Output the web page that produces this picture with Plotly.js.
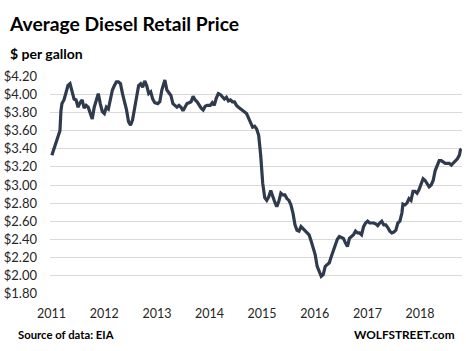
<!DOCTYPE html>
<html>
<head>
<meta charset="utf-8">
<script src="https://cdn.plot.ly/plotly-3.0.1.min.js"></script>
<style>
html,body{margin:0;padding:0;background:#fff;}
#chart{width:466px;height:351px;}
</style>
</head>
<body>
<div id="chart"></div>
<script>
var dates = [
"2011-01-03","2011-01-17","2011-01-31","2011-02-14","2011-02-28","2011-03-07","2011-03-14","2011-03-28","2011-04-11","2011-04-25","2011-05-09","2011-05-23","2011-06-06","2011-06-20","2011-07-04","2011-07-18","2011-08-01","2011-08-15","2011-08-29","2011-09-12","2011-09-26","2011-10-10","2011-10-24","2011-11-07","2011-11-21","2011-12-05","2011-12-19",
"2012-01-02","2012-01-16","2012-01-30","2012-02-13","2012-02-27","2012-03-12","2012-03-26","2012-04-09","2012-04-23","2012-05-07","2012-05-21","2012-06-04","2012-06-18","2012-07-02","2012-07-16","2012-07-30","2012-08-13","2012-08-27","2012-09-10","2012-09-24","2012-10-08","2012-10-22","2012-11-05","2012-11-19","2012-12-03","2012-12-17",
"2013-01-07","2013-01-21","2013-02-04","2013-02-18","2013-02-25","2013-03-11","2013-03-25","2013-04-08","2013-04-22","2013-05-06","2013-05-20","2013-06-03","2013-06-17","2013-07-01","2013-07-15","2013-07-29","2013-08-12","2013-08-26","2013-09-09","2013-09-23","2013-10-07","2013-10-21","2013-11-04","2013-11-18","2013-12-02","2013-12-16",
"2014-01-06","2014-01-20","2014-02-03","2014-02-17","2014-03-03","2014-03-17","2014-03-31","2014-04-14","2014-04-28","2014-05-12","2014-05-26","2014-06-09","2014-06-23","2014-07-07","2014-07-21","2014-08-04","2014-08-18","2014-09-01","2014-09-15","2014-09-29","2014-10-13","2014-10-27","2014-11-10","2014-11-24","2014-12-08","2014-12-22",
"2015-01-05","2015-01-19","2015-02-02","2015-02-16","2015-03-02","2015-03-16","2015-03-30","2015-04-13","2015-04-27","2015-05-11","2015-05-25","2015-06-08","2015-06-22","2015-07-06","2015-07-20","2015-08-03","2015-08-17","2015-08-31","2015-09-14","2015-09-28","2015-10-12","2015-10-26","2015-11-09","2015-11-23","2015-12-07","2015-12-21",
"2016-01-04","2016-01-18","2016-02-01","2016-02-15","2016-02-29","2016-03-14","2016-03-28","2016-04-11","2016-04-25","2016-05-09","2016-05-23","2016-06-06","2016-06-20","2016-07-04","2016-07-18","2016-08-01","2016-08-15","2016-08-29","2016-09-12","2016-09-26","2016-10-10","2016-10-24","2016-11-07","2016-11-21","2016-12-05","2016-12-19",
"2017-01-02","2017-01-16","2017-01-30","2017-02-13","2017-02-27","2017-03-13","2017-03-27","2017-04-10","2017-04-24","2017-05-08","2017-05-22","2017-06-05","2017-06-19","2017-07-03","2017-07-17","2017-07-31","2017-08-14","2017-08-28","2017-09-04","2017-09-18","2017-10-02","2017-10-16","2017-10-30","2017-11-13","2017-11-27","2017-12-11","2017-12-25",
"2018-01-08","2018-01-22","2018-02-05","2018-02-19","2018-03-05","2018-03-19","2018-04-02","2018-04-16","2018-04-30","2018-05-14","2018-05-28","2018-06-11","2018-06-25","2018-07-09","2018-07-23","2018-08-06","2018-08-20","2018-09-03","2018-09-17","2018-10-01","2018-10-08","2018-10-15"
];
var prices = [
3.33,3.40,3.48,3.55,3.60,3.82,3.90,3.94,4.02,4.10,4.12,4.02,3.95,3.94,3.86,3.91,3.94,3.85,3.88,3.86,3.80,3.73,3.86,3.94,4.01,3.90,3.81,
3.79,3.86,3.84,3.94,4.05,4.10,4.14,4.14,4.12,4.01,3.93,3.83,3.70,3.66,3.72,3.86,4.00,4.10,4.12,4.08,4.15,4.10,4.01,4.03,3.95,3.91,
3.90,3.92,4.05,4.14,4.16,4.05,4.02,3.99,3.90,3.88,3.86,3.88,3.86,3.82,3.87,3.90,3.91,3.92,3.98,3.94,3.92,3.88,3.85,3.83,3.87,3.88,
3.88,3.91,3.88,3.96,4.01,4.00,3.98,3.95,3.97,3.93,3.94,3.92,3.92,3.88,3.86,3.84,3.83,3.81,3.79,3.74,3.68,3.64,3.65,3.62,3.55,3.33,
3.02,2.86,2.83,2.87,2.94,2.87,2.81,2.76,2.82,2.91,2.89,2.89,2.85,2.83,2.78,2.69,2.56,2.50,2.49,2.54,2.52,2.50,2.48,2.45,2.38,2.30,
2.23,2.10,2.04,1.99,2.01,2.10,2.12,2.14,2.21,2.28,2.35,2.40,2.43,2.42,2.41,2.36,2.32,2.41,2.43,2.45,2.49,2.47,2.47,2.45,2.54,2.58,
2.60,2.58,2.58,2.58,2.57,2.55,2.58,2.60,2.56,2.56,2.53,2.49,2.47,2.48,2.50,2.58,2.60,2.69,2.79,2.78,2.80,2.85,2.83,2.93,2.93,2.91,2.95,
3.00,3.07,3.05,3.02,2.98,3.00,3.05,3.16,3.22,3.27,3.27,3.25,3.24,3.24,3.24,3.22,3.24,3.26,3.29,3.33,3.39,3.40
];
var chartTitle = "Average Diesel Retail Price";
var unitLabel = "$ per gallon";
var sourceLabel = "Source of data: EIA";
var creditLabel = "WOLFSTREET.com";

var FONT = "Lato, 'Open Sans', sans-serif";

var trace = {
  x: dates, y: prices, type: 'scatter', mode: 'lines',
  line: {color: '#2F3A4D', width: 3.2},
  hoverinfo: 'skip'
};

var layout = {
  width: 466, height: 351,
  margin: {l: 50, r: 4, t: 75.5, b: 56.5},
  paper_bgcolor: '#ffffff', plot_bgcolor: '#ffffff',
  showlegend: false,
  font: {family: FONT, color: '#262626', size: 12.5},
  xaxis: {
    type: 'date',
    range: ['2010-12-21', '2018-10-19'],
    tick0: '2011-01-01', dtick: 'M12', tickformat: '%Y',
    showgrid: false, zeroline: false, showline: false,
    ticks: '', ticklabelstandoff: 10,
    tickfont: {family: FONT, size: 12.5, color: '#262626'}
  },
  yaxis: {
    range: [1.795, 4.205],
    tick0: 1.8, dtick: 0.2,
    tickprefix: '$', tickformat: '.2f',
    showgrid: true, gridcolor: '#D9D9D9', gridwidth: 1,
    zeroline: false, showline: false, ticks: '',
    ticklabelstandoff: 12,
    tickfont: {family: FONT, size: 13, color: '#262626'}
  },
  annotations: [
    {text: '<b>' + chartTitle + '</b>', xref: 'paper', yref: 'paper',
     x: -0.1044, y: 1.2397, xanchor: 'left', yanchor: 'middle', showarrow: false,
     font: {family: FONT, size: 19.3, color: '#000'}},
    {text: '<b>' + unitLabel + '</b>', xref: 'paper', yref: 'paper',
     x: -0.102, y: 1.1027, xanchor: 'left', yanchor: 'middle', showarrow: false,
     font: {family: FONT, size: 14, color: '#000'}},
    {text: '<b>' + sourceLabel + '</b>', xref: 'paper', yref: 'paper',
     x: -0.0825, y: -0.185, xanchor: 'left', yanchor: 'middle', showarrow: false,
     font: {family: FONT, size: 11.3, color: '#000'}},
    {text: '<b>' + creditLabel + '</b>', xref: 'paper', yref: 'paper',
     x: 0.9879, y: -0.185, xanchor: 'right', yanchor: 'middle', showarrow: false,
     font: {family: FONT, size: 11.8, color: '#000'}}
  ]
};

Plotly.newPlot('chart', [trace], layout, {displayModeBar: false, staticPlot: true});
</script>
</body>
</html>
